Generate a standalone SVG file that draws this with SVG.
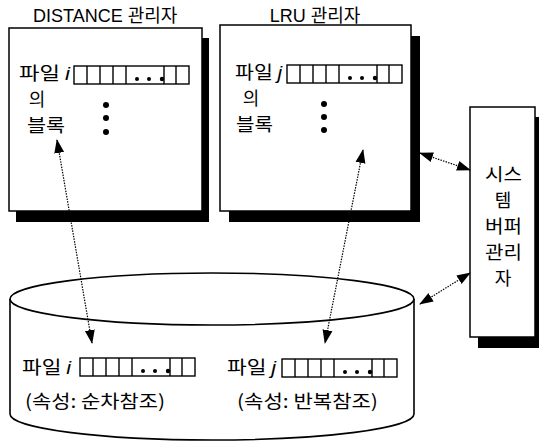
<svg xmlns="http://www.w3.org/2000/svg" width="539" height="443" viewBox="0 0 539 443">
<style>
.box{fill:#fff;stroke:#000;stroke-width:1.5}
.sh{fill:#000}
.t{font-family:"Noto Sans CJK KR","Liberation Sans",sans-serif;font-size:18px;fill:#000}
.title{font-family:"Liberation Sans","Noto Sans CJK KR",sans-serif;font-size:18px;fill:#000}
.it{font-family:"Liberation Sans",sans-serif;font-style:italic}
.cell{fill:#fff;stroke:#000;stroke-width:1.4}
.conn{fill:none;stroke:#000;stroke-width:1.2;stroke-dasharray:1.5 1.2}
</style>
<defs>
<marker id="ah" markerUnits="userSpaceOnUse" markerWidth="14" markerHeight="12" refX="13" refY="5" orient="auto-start-reverse" viewBox="0 0 14 10">
<path d="M0,0 L14,5 L0,10 z" fill="#000"/>
</marker>
<g id="row">
<rect class="cell" x="0" y="0" width="115" height="18"/>
<path d="M13,0V18M26,0V18M39,0V18M52,0V18M90,0V18M102,0V18" stroke="#000" stroke-width="1.4"/>
<circle cx="63" cy="13" r="2"/><circle cx="75" cy="13" r="2"/><circle cx="88" cy="13" r="2.2"/>
</g>
</defs>

<g id="distance">
<rect class="sh" x="16" y="38" width="193" height="184"/>
<rect class="box" x="9" y="28" width="193" height="183"/>
<text class="title" x="33" y="22">DISTANCE 관리자</text>
<text class="t" x="19" y="80" textLength="51" lengthAdjust="spacingAndGlyphs">파일 <tspan class="it">i</tspan></text>
<use href="#row" x="74" y="66"/>
<text class="t" x="37" y="106" text-anchor="middle">의</text>
<text class="t" x="27" y="132" textLength="38" lengthAdjust="spacingAndGlyphs">블록</text>
<circle cx="106" cy="105" r="3"/><circle cx="106" cy="118" r="3"/><circle cx="106" cy="132" r="3"/>
</g>

<g id="lru">
<rect class="sh" x="229" y="36" width="191" height="186"/>
<rect class="box" x="220" y="25" width="191" height="186"/>
<text class="title" x="315" y="22" text-anchor="middle">LRU 관리자</text>
<text class="t" x="235" y="79" textLength="47" lengthAdjust="spacingAndGlyphs">파일 <tspan class="it">j</tspan></text>
<use href="#row" x="287" y="65"/>
<text class="t" x="251" y="105" text-anchor="middle">의</text>
<text class="t" x="236" y="131" textLength="37" lengthAdjust="spacingAndGlyphs">블록</text>
<circle cx="324" cy="104" r="3"/><circle cx="324" cy="117" r="3"/><circle cx="324" cy="130" r="3"/>
</g>

<g id="system">
<rect class="sh" x="478" y="117" width="65" height="231"/>
<rect class="box" x="470" y="107" width="65" height="230"/>
<text class="t" x="485" y="181" textLength="37" lengthAdjust="spacingAndGlyphs">시스</text>
<text class="t" x="503" y="207" text-anchor="middle">템</text>
<text class="t" x="485" y="233" textLength="37" lengthAdjust="spacingAndGlyphs">버퍼</text>
<text class="t" x="485" y="259" textLength="37" lengthAdjust="spacingAndGlyphs">관리</text>
<text class="t" x="503" y="285" text-anchor="middle">자</text>
</g>

<g id="disk">
<path d="M10,299 L10,414 A202,26 0 0 0 414,414 L414,299" fill="#fff" stroke="#000" stroke-width="1.6"/>
<ellipse cx="212" cy="299" rx="202" ry="26" fill="#fff" stroke="#000" stroke-width="1.6"/>
<text class="t" x="22" y="374" textLength="49" lengthAdjust="spacingAndGlyphs">파일 <tspan class="it">i</tspan></text>
<use href="#row" x="80" y="358"/>
<text class="t" x="25" y="408" textLength="140" lengthAdjust="spacingAndGlyphs">(속성: 순차참조)</text>
<text class="t" x="227" y="374" textLength="49" lengthAdjust="spacingAndGlyphs">파일 <tspan class="it">j</tspan></text>
<use href="#row" x="282" y="359"/>
<text class="t" x="237" y="408" textLength="141" lengthAdjust="spacingAndGlyphs">(속성: 반복참조)</text>
</g>

<g id="connectors">
<line class="conn" x1="57" y1="140" x2="92" y2="343" marker-start="url(#ah)" marker-end="url(#ah)"/>
<line class="conn" x1="363" y1="150" x2="325" y2="343" marker-start="url(#ah)" marker-end="url(#ah)"/>
<line class="conn" x1="420" y1="153" x2="470" y2="170" marker-start="url(#ah)" marker-end="url(#ah)"/>
<line class="conn" x1="420" y1="304" x2="470" y2="273" marker-start="url(#ah)" marker-end="url(#ah)"/>
</g>
</svg>
